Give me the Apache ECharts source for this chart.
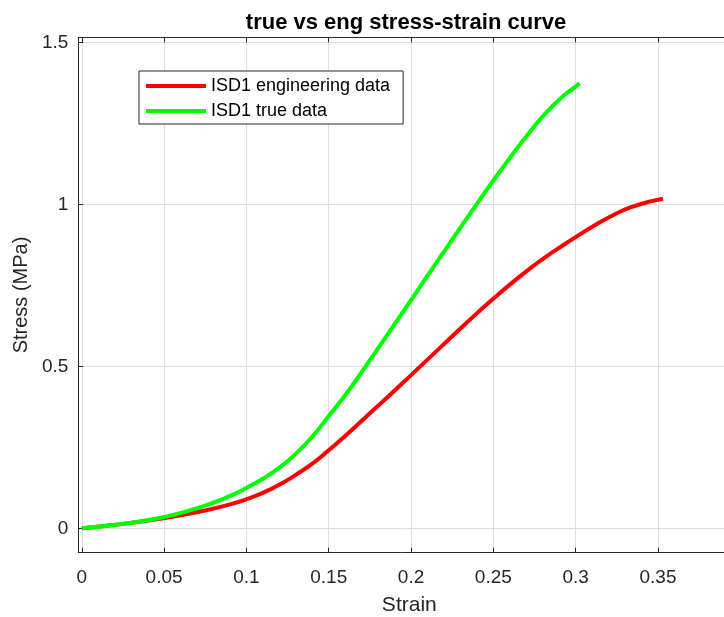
<!DOCTYPE html>
<html><head><meta charset="utf-8">
<script src="https://cdn.jsdelivr.net/npm/echarts@6/dist/echarts.min.js"></script>
<style>html,body{margin:0;padding:0;background:#fff}#c{width:724px;height:617px}</style>
</head><body><div id="c"></div>
<script>
const engStrain = [0, 0.019, 0.0496, 0.0749, 0.0901, 0.1002, 0.1103, 0.1205, 0.1306, 0.1407, 0.1498, 0.161, 0.1711, 0.1812, 0.1914, 0.2015, 0.2185, 0.2359, 0.2497, 0.2622, 0.2724, 0.2825, 0.2926, 0.2995, 0.3129, 0.323, 0.3332, 0.3433, 0.353];
const engStress = [0, 0.010, 0.031, 0.055, 0.074, 0.090, 0.110, 0.136, 0.167, 0.202, 0.240, 0.290, 0.337, 0.384, 0.432, 0.480, 0.562, 0.645, 0.708, 0.762, 0.803, 0.841, 0.875, 0.898, 0.940, 0.968, 0.991, 1.007, 1.018];
const trueStrain = [0, 0.0192, 0.0496, 0.0749, 0.0901, 0.1002, 0.1103, 0.1205, 0.1306, 0.1407, 0.1498, 0.161, 0.1711, 0.1812, 0.1914, 0.2015, 0.2116, 0.2218, 0.2318, 0.240, 0.2497, 0.2622, 0.2724, 0.2825, 0.2926, 0.2995, 0.3023];
const trueStress = [0, 0.010, 0.034, 0.070, 0.100, 0.125, 0.154, 0.189, 0.233, 0.287, 0.345, 0.418, 0.490, 0.565, 0.641, 0.716, 0.792, 0.868, 0.942, 1.002, 1.072, 1.159, 1.226, 1.286, 1.336, 1.363, 1.375];
const xTicks = [0, 0.05, 0.1, 0.15, 0.2, 0.25, 0.3, 0.35, 0.4];
const xLabels = [0, 0.05, 0.1, 0.15, 0.2, 0.25, 0.3, 0.35];
const yTicks = [0, 0.5, 1, 1.5];
const seriesNames = ['ISD1 engineering data', 'ISD1 true data'];

const font = 'Liberation Sans, Arial, sans-serif';
const ink = '#262626';
const chart = echarts.init(document.getElementById('c'));
const xBase = {
  type: 'value', min: -0.0021, max: 0.4,
  axisLine: { show: true, onZero: false, lineStyle: { color: ink, width: 1 } },
  axisTick: { show: true, inside: true, length: 5, customValues: xTicks, lineStyle: { color: ink } }
};
chart.setOption({
  animation: false,
  title: {
    text: 'true vs eng stress-strain curve', left: 401, top: 7, textAlign: 'center',
    textStyle: { fontFamily: font, fontWeight: 'bold', fontSize: 22, color: '#000' }
  },
  legend: {
    orient: 'vertical', left: 139, top: 71,
    padding: [6, 13, 4, 7], itemGap: 7, itemWidth: 60, itemHeight: 4, icon: 'rect',
    borderColor: ink, borderWidth: 1, backgroundColor: '#fff',
    textStyle: { fontFamily: font, fontSize: 18, color: '#000', lineHeight: 18 },
    data: seriesNames
  },
  grid: { left: 78.3, top: 37.3, bottom: 64.3, right: -16.3, containLabel: false, outerBoundsMode: 'none' },
  xAxis: [
    Object.assign({}, xBase, {
      position: 'bottom',
      name: 'Strain', nameLocation: 'middle', nameGap: 42,
      nameTextStyle: { fontFamily: font, fontSize: 21, color: ink },
      axisLabel: { customValues: xLabels, margin: 16, fontFamily: font, fontSize: 19, color: ink },
      splitLine: { show: true, lineStyle: { color: '#dedede', width: 1 } }
    }),
    Object.assign({}, xBase, {
      position: 'top',
      axisLabel: { show: false },
      splitLine: { show: false }
    })
  ],
  yAxis: {
    type: 'value', min: -0.0754, max: 1.5167,
    name: 'Stress (MPa)', nameLocation: 'middle', nameGap: 47,
    nameTextStyle: { fontFamily: font, fontSize: 20, color: ink },
    axisLine: { show: true, onZero: false, lineStyle: { color: ink, width: 1 } },
    axisTick: { show: true, inside: true, length: 5, customValues: yTicks, lineStyle: { color: ink } },
    axisLabel: { customValues: yTicks, margin: 10, fontFamily: font, fontSize: 19, color: ink },
    splitLine: { show: true, lineStyle: { color: '#dedede', width: 1 } }
  },
  series: [
    {
      name: seriesNames[0], type: 'line', xAxisIndex: 0, showSymbol: false, smooth: 0.5,
      lineStyle: { color: '#ff0000', width: 4 }, itemStyle: { color: '#ff0000' },
      data: engStrain.map((x, i) => [x, engStress[i]])
    },
    {
      name: seriesNames[1], type: 'line', xAxisIndex: 0, showSymbol: false, smooth: 0.5,
      lineStyle: { color: '#00ff00', width: 4 }, itemStyle: { color: '#00ff00' },
      data: trueStrain.map((x, i) => [x, trueStress[i]])
    }
  ]
});
</script></body></html>
